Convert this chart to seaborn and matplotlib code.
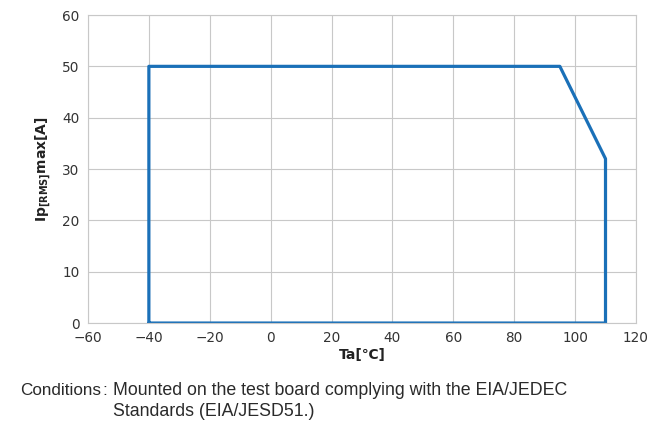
import pandas as pd
import matplotlib.pyplot as plt
import seaborn as sns

# derating outline (closed polygon)
ta = [-40, -40, 95, 110, 110, -40]
ip = [0, 50, 50, 32, 0, 0]
x_ticks = [-60, -40, -20, 0, 20, 40, 60, 80, 100, 120]
y_ticks = [0, 10, 20, 30, 40, 50, 60]

df = pd.DataFrame({"Ta": ta, "Ip": ip})

sns.set_style("whitegrid")
plt.rcParams['font.family'] = ['DejaVu Sans']

fig = plt.figure(figsize=(6.63, 4.29), dpi=100)
ax = fig.add_axes([0.1327, 0.247, 0.8265, 0.718])

sns.lineplot(data=df, x="Ta", y="Ip", sort=False, estimator=None,
             color="#1a70b8", linewidth=2.3, ax=ax)

ax.set_xlim(-60, 120)
ax.set_ylim(0, 60)
ax.set_xticks(x_ticks)
ax.set_yticks(y_ticks)
ax.set_xticklabels([str(t).replace("-", "\u2212") for t in x_ticks])
ax.tick_params(axis="both", length=0, labelsize=9.8, labelcolor="#333333", pad=6)
ax.grid(True, color="#c8c8c8", linewidth=0.8)
for s in ax.spines.values():
    s.set_color("#c8c8c8")
    s.set_linewidth(0.8)

ax.set_xlabel("Ta[\u2103]", fontsize=10, fontweight="bold", color="#222222", labelpad=2)
ax.set_ylabel(r"$\mathbf{Ip_{[RMS]}max[A]}$", fontsize=10, color="#222222", labelpad=6)

note_font = dict(color="#2a2a2a", family=["Liberation Sans", "DejaVu Sans"])
fig.text(0.030, 0.079, "Conditions", fontsize=12.3, **note_font)
fig.text(0.155, 0.079, ":", fontsize=12.3, **note_font)
fig.text(0.170, 0.079, "Mounted on the test board complying with the EIA/JEDEC",
         fontsize=12.8, **note_font)
fig.text(0.170, 0.030, "Standards (EIA/JESD51.)", fontsize=12.8, **note_font)

fig.savefig("out.png", dpi=100)
